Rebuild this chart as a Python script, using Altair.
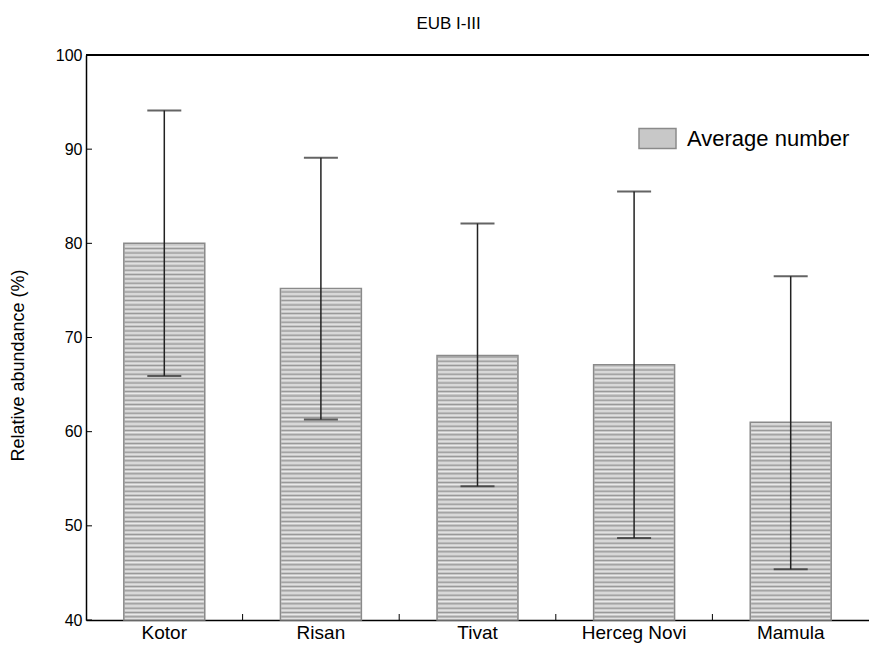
import altair as alt
import pandas as pd

# ---- data ----
sites = ["Kotor", "Risan", "Tivat", "Herceg Novi", "Mamula"]
means = [80.0, 75.2, 68.1, 67.1, 61.0]
upper = [94.1, 89.1, 82.1, 85.5, 76.5]
lower = [65.9, 61.3, 54.2, 48.7, 45.4]
y_ticks = [40, 50, 60, 70, 80, 90, 100]
series_name = "Average number"

df = pd.DataFrame({"site": sites, "mean": means, "upper": upper,
                   "lower": lower, "series": series_name})

W, H = 783, 565
FONT = "Liberation Sans"

xscale = alt.Scale(domain=sites, paddingInner=0, paddingOuter=0)
yscale = alt.Scale(domain=[40, 100], nice=False, zero=False)

x_axis = alt.Axis(title=None, ticks=False, labelAngle=0, labelFontSize=19,
                  labelPadding=3, labelColor="black", domainColor="black",
                  domainWidth=1.5, labelFont=FONT)
y_axis = alt.Axis(values=y_ticks, ticks=False, grid=False, labelFontSize=16,
                  labelPadding=4, labelColor="black", domainColor="black",
                  domainWidth=1.5, title="Relative abundance (%)",
                  titleFontSize=18, titleFontWeight="normal", titleColor="black",
                  titlePadding=28, titleY=310, labelFont=FONT, titleFont=FONT)


def X(**kw):
    return alt.X("site:N", scale=xscale, sort=sites, axis=x_axis, **kw)


def Y(field):
    return alt.Y(field, scale=yscale, axis=y_axis)


base = alt.Chart(df)

bars = base.mark_bar(width=alt.RelativeBandSize(0.517), stroke="#8a8a8a",
                     strokeWidth=1.5).encode(
    x=X(),
    y=Y("mean:Q"),
    y2=alt.datum(40),
    fill=alt.Fill("series:N", scale=alt.Scale(range=["#c8c8c8"]),
                  legend=alt.Legend(title=None, orient="none", legendX=552, legendY=64,
                                    symbolType="M-1,-0.54H1V0.54H-1Z", symbolSize=1369,
                                    symbolStrokeColor="#8a8a8a", symbolStrokeWidth=1.5,
                                    symbolOpacity=1, labelFontSize=22, labelColor="black",
                                    labelFont=FONT, labelOffset=10, labelLimit=400)),
)

stripes_white = base.transform_calculate(
    s="sequence(40.12, datum.mean - 0.1, 0.46)"
).transform_flatten(["s"]).mark_tick(
    orient="horizontal", size=79, thickness=1, color="#f6f6f6"
).encode(x=X(), y=Y("s:Q"))

stripes_dark = base.transform_calculate(
    s="sequence(40.34, datum.mean - 0.1, 0.46)"
).transform_flatten(["s"]).mark_tick(
    orient="horizontal", size=79, thickness=1, color="#858585"
).encode(x=X(), y=Y("s:Q"))

err = base.mark_rule(color="#222222", strokeWidth=1.5).encode(
    x=X(), y=Y("lower:Q"), y2="upper:Q")
cap_hi = base.mark_tick(orient="horizontal", size=34, thickness=2, color="#222222").encode(
    x=X(), y=Y("upper:Q"))
cap_lo = base.mark_tick(orient="horizontal", size=34, thickness=2, color="#222222").encode(
    x=X(), y=Y("lower:Q"))

ytick_df = pd.DataFrame({"v": y_ticks})
yt = alt.Chart(ytick_df).mark_rule(color="black", strokeWidth=1).encode(
    y=Y("v:Q"), x=alt.value(0), x2=alt.value(6))

xt = alt.Chart(pd.DataFrame({"site": sites[1:]})).mark_rule(color="black", strokeWidth=1).encode(
    x=X(bandPosition=0), y=alt.value(H), y2=alt.value(H - 6))

top_line = alt.Chart(ytick_df).mark_rule(color="black", strokeWidth=1.5).encode(
    y=alt.datum(100), x=alt.value(0), x2=alt.value(W))

chart = alt.layer(bars, stripes_white, stripes_dark, err, cap_hi, cap_lo, yt, xt, top_line).properties(
    width=W, height=H,
    title=alt.TitleParams("EUB I-III", anchor="middle", dx=-29, offset=14),
    autosize=alt.AutoSizeParams(type="none"),
    padding={"left": 78, "top": 47, "right": 0, "bottom": 30},
).configure_view(stroke=None).configure_title(
    fontSize=17, font=FONT, fontWeight="normal", color="black"
)

chart.save("out.html", embed_options={"renderer": "svg", "actions": False})
